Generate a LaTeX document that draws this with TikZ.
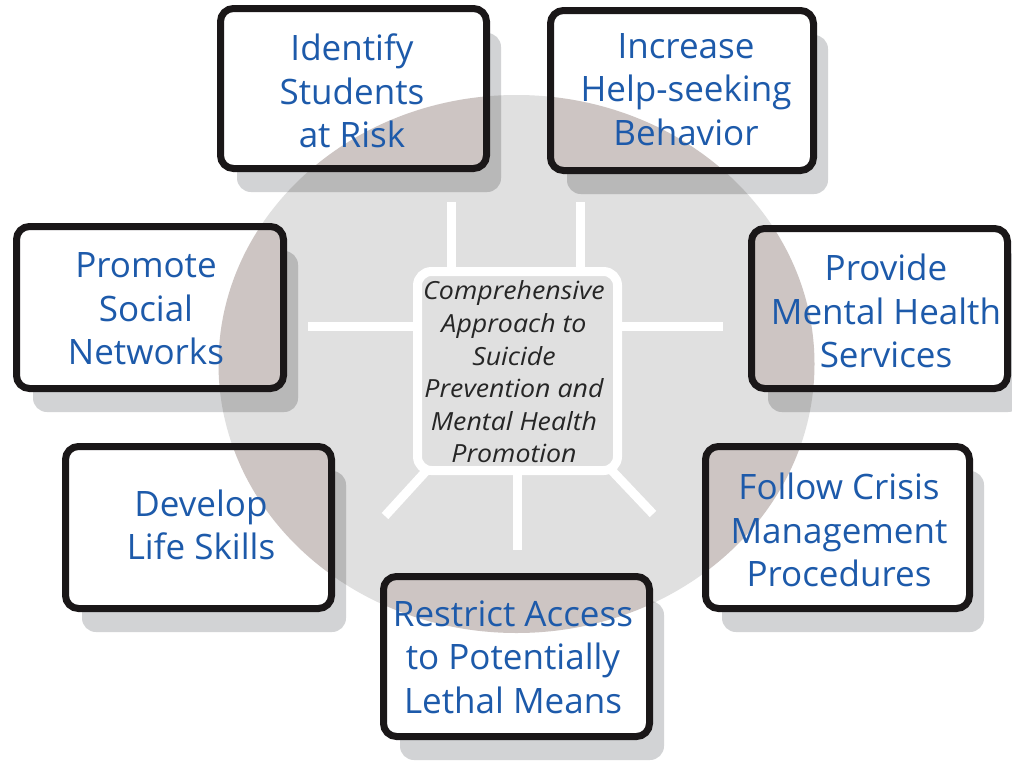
\documentclass[tikz,border=0pt]{standalone}
\usepackage{fontspec}
\setmainfont{Open Sans}
\newfontfamily\ctrfont[FakeStretch=1.07]{Open Sans}
\definecolor{circ}{HTML}{E0E0E0}
\definecolor{overlapc}{HTML}{CDC5C3}
\definecolor{shad}{HTML}{D2D3D5}
\definecolor{shadin}{HTML}{B8B8B8}
\definecolor{txtblue}{HTML}{1D5AAA}
\definecolor{bord}{HTML}{1A1718}
\definecolor{ctrtxt}{HTML}{262626}
\tikzset{
  boxtext/.style={text=txtblue, align=center, font=\fontsize{35}{43.5}\selectfont, inner sep=0pt},
  spoke/.style={draw=white, line width=9pt},
  boxborder/.style={draw=bord, line width=7pt, rounded corners=13pt},
  shadowfill/.style={fill=shad, rounded corners=14pt},
  ctrbox/.style={draw=white, line width=9pt, fill=circ, rounded corners=14pt,
    minimum width=200pt, minimum height=199pt, inner sep=0pt},
  ctrtext/.style={align=center, inner sep=0pt,
    text=ctrtxt, font=\ctrfont\itshape\fontsize{25}{32.6}\selectfont},
}
% #1 name, #2 x0, #3 y0, #4 x1, #5 y1, #6 text position, #7 text
\newcommand\mybox[7]{%
  \fill[shadowfill] (#2+16.5,#3+24.5) rectangle (#4+14.5,#5+23.5);
  \begin{scope}
    \clip[rounded corners=14pt] (#2+16.5,#3+24.5) rectangle (#4+14.5,#5+23.5);
    \fill[shadin] (516.5,364) ellipse [x radius=298, y radius=269];
  \end{scope}
  \fill[white, rounded corners=13pt] (#2,#3) rectangle (#4,#5);
  \begin{scope}
    \clip[rounded corners=13pt] (#2,#3) rectangle (#4,#5);
    \fill[overlapc] (516.5,364) ellipse [x radius=298, y radius=269];
  \end{scope}
  \draw[boxborder] (#2,#3) rectangle (#4,#5);
  \node[boxtext] (#1) at (#6) {#7};
}
\begin{document}
\begin{tikzpicture}[x=1pt,y=-1pt]
  \useasboundingbox (0,0) rectangle (1012,763);
  \fill[white] (0,0) rectangle (1012,763);
  % background ellipse
  \fill[circ] (516.5,364) ellipse [x radius=298, y radius=269];
  % boxes
  \mybox{identify}{220.5}{8.5}{486.5}{168.5}{352,91}{Identify\\Students\\at Risk}
  \mybox{increase}{550.5}{10.5}{813.5}{170.5}{686,89.5}{Increase\\Help-seeking\\Behavior}
  \mybox{promote}{16.5}{226.5}{283.5}{388.5}{146,309}{Promote\\Social\\Networks}
  \mybox{provide}{751.5}{228.5}{1007.5}{388.5}{886,311}{Provide\\Mental Health\\Services}
  \mybox{develop}{65.5}{446.5}{331.5}{608.5}{201,525}{Develop\\Life Skills}
  \mybox{follow}{705.5}{446.5}{969.5}{608.5}{839,530}{Follow Crisis\\Management\\Procedures}
  \mybox{restrict}{383.5}{576.5}{649.5}{736.5}{513,657}{Restrict Access\\to Potentially\\Lethal Means}
  % spoke ends
  \coordinate (tl) at (451,202);
  \coordinate (tr) at (580,202);
  \coordinate (ml) at (308,326);
  \coordinate (mr) at (723,326);
  \coordinate (bl) at (385,516);
  \coordinate (bm) at (517,550);
  \coordinate (br) at (653,514);
  \coordinate (cc) at (517.5,371);
  % spokes (drawn under the centre node)
  \draw[spoke] (tl) -- (tl |- cc);
  \draw[spoke] (tr) -- (tr |- cc);
  \draw[spoke] (ml) -- (ml -| cc);
  \draw[spoke] (mr) -- (mr -| cc);
  \draw[spoke] (bl) -- (cc);
  \draw[spoke] (bm) -- (bm |- cc);
  \draw[spoke] (br) -- (cc);
  % centre
  \node[ctrbox] (ctr) at (cc) {};
  \node[ctrtext] (ctrlabel) at (514,372) {Comprehensive\\Approach to\\Suicide\\Prevention and\\Mental Health\\Promotion};
\end{tikzpicture}
\end{document}
